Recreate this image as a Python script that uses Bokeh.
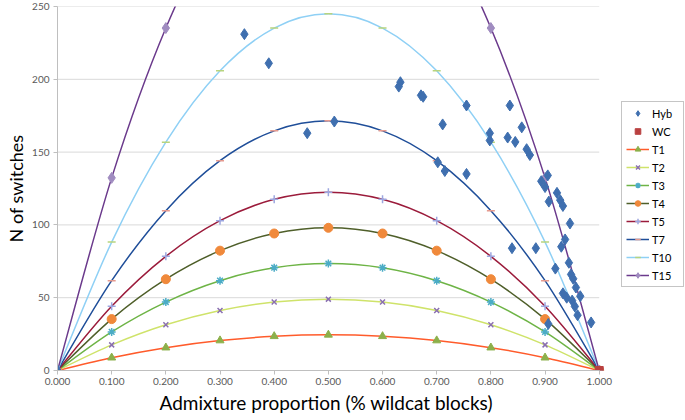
from bokeh.plotting import figure
from bokeh.models import Legend, LegendItem, NumeralTickFormatter, FixedTicker, Range1d, Title
from bokeh.embed import file_html
from bokeh.resources import INLINE

# ---- data ----
proportions = [0.0, 0.1, 0.2, 0.3, 0.4, 0.5, 0.6, 0.7, 0.8, 0.9, 1.0]
t1 = [0, 8.8, 15.7, 20.6, 23.5, 24.5, 23.5, 20.6, 15.7, 8.8, 0]
t2 = [0, 17.6, 31.4, 41.2, 47.0, 49.0, 47.0, 41.2, 31.4, 17.6, 0]
t3 = [0, 26.5, 47.0, 61.7, 70.6, 73.5, 70.6, 61.7, 47.0, 26.5, 0]
t4 = [0, 35.3, 62.7, 82.3, 94.1, 98.0, 94.1, 82.3, 62.7, 35.3, 0]
t5 = [0, 44.1, 78.4, 102.9, 117.6, 122.5, 117.6, 102.9, 78.4, 44.1, 0]
t7 = [0, 61.7, 109.8, 144.1, 164.6, 171.5, 164.6, 144.1, 109.8, 61.7, 0]
t10 = [0, 88.2, 156.8, 205.8, 235.2, 245.0, 235.2, 205.8, 156.8, 88.2, 0]
t15 = [0, 132.3, 235.2, 308.7, 352.8, 367.5, 352.8, 308.7, 235.2, 132.3, 0]

hyb_x = [0.0, 0.345, 0.39, 0.461, 0.511, 0.630, 0.633, 0.671, 0.675, 0.702, 0.711,
         0.715, 0.755, 0.755, 0.798, 0.798, 0.831, 0.835, 0.839, 0.845, 0.857, 0.866,
         0.872, 0.883, 0.893, 0.900, 0.905, 0.907, 0.906, 0.919, 0.922, 0.928, 0.930,
         0.933, 0.933, 0.937, 0.940, 0.944, 0.946, 0.948, 0.950, 0.952, 0.955, 0.957,
         0.960, 0.965, 0.985]
hyb_y = [0, 231, 211, 163, 171, 195, 198, 189, 188, 143, 169,
         137, 182, 135, 163, 158, 160, 182, 84, 157, 167, 152,
         148, 84, 130, 126, 134, 116, 32, 70, 122, 117, 85,
         113, 53, 90, 50, 74, 101, 66, 48, 63, 44, 57,
         38, 51, 33]
wc_x = [1.0]
wc_y = [0]

x_ticks = [0.0, 0.1, 0.2, 0.3, 0.4, 0.5, 0.6, 0.7, 0.8, 0.9, 1.0]
y_ticks = [0, 50, 100, 150, 200, 250]

FONT = "Lato"


def smooth_segments(xs, ys):
    """Bezier control points for a smoothed line through the given points."""
    n = len(xs)
    out = {k: [] for k in ("x0", "y0", "x1", "y1", "cx0", "cy0", "cx1", "cy1")}
    for i in range(n - 1):
        xp, yp = (xs[i - 1], ys[i - 1]) if i > 0 else (xs[i], ys[i])
        xn, yn = (xs[i + 2], ys[i + 2]) if i + 2 < n else (xs[i + 1], ys[i + 1])
        out["x0"].append(xs[i]); out["y0"].append(ys[i])
        out["x1"].append(xs[i + 1]); out["y1"].append(ys[i + 1])
        out["cx0"].append(xs[i] + (xs[i + 1] - xp) / 6.0)
        out["cy0"].append(ys[i] + (ys[i + 1] - yp) / 6.0)
        out["cx1"].append(xs[i + 1] - (xn - xs[i]) / 6.0)
        out["cy1"].append(ys[i + 1] - (yn - ys[i]) / 6.0)
    return out


# frame spans the full width; the data area (0..1) ends where the legend column starts
p = figure(width=684, height=414, output_backend="svg", toolbar_location=None,
           x_range=Range1d(0, 1.1574), y_range=Range1d(0, 250),
           min_border_left=51, min_border_right=0, min_border_top=6, min_border_bottom=30)
p.outline_line_color = None
p.xgrid.visible = False
p.ygrid.visible = False
p.segment(x0=[x_ticks[0]] * len(y_ticks), x1=[x_ticks[-1]] * len(y_ticks),
          y0=y_ticks, y1=y_ticks, line_color="#D9D9D9", line_width=1, level="underlay")

p.xaxis.ticker = FixedTicker(ticks=x_ticks)
p.yaxis.ticker = FixedTicker(ticks=y_ticks)
p.xaxis.bounds = (x_ticks[0], x_ticks[-1])
p.xaxis.formatter = NumeralTickFormatter(format="0.000")
for ax in (p.xaxis, p.yaxis):
    ax.axis_line_color = "#BFBFBF"
    ax.major_tick_line_color = "#BFBFBF"
    ax.major_tick_out = 4
    ax.major_tick_in = 0
    ax.minor_tick_line_color = None
    ax.major_label_text_font = FONT
    ax.major_label_text_font_size = "10px"
    ax.major_label_text_color = "#595959"
p.xaxis.major_label_standoff = 3
p.yaxis.major_label_standoff = 4

# axis titles as Titles so they can sit where the reference puts them
y_title = Title(text="N of switches", align="center", offset=10, standoff=5,
                text_font=FONT, text_font_size="18px", text_font_style="normal",
                text_color="#000000")
p.add_layout(y_title, "left")
x_title = Title(text="Admixture proportion (% wildcat blocks)", align="left", offset=102,
                standoff=2, text_font=FONT, text_font_size="19px",
                text_font_style="normal", text_color="#000000")
p.add_layout(x_title, "below")

items = []
series = [
    ("T1", t1, "#FF5B2B", "triangle", "#8CB04A", 8),
    ("T2", t2, "#CFE36A", "x", "#8A6FB0", 7),
    ("T3", t3, "#6EB446", "asterisk", "#4BACC6", 8),
    ("T4", t4, "#4F5F2A", "circle", "#F0893B", 9),
    ("T5", t5, "#9B1B3B", "cross", "#9DA7E0", 8),
    ("T7", t7, "#1F4E99", "dash", "#E59A8F", 8),
    ("T10", t10, "#8FD0F5", "dash", "#B7D47E", 8),
    ("T15", t15, "#6B3A8C", "diamond", "#A08CC0", 11),
]
for name, vals, lc, mk, mc, sz in series:
    seg = smooth_segments(proportions, vals)
    rl = p.bezier(x0=seg["x0"], y0=seg["y0"], x1=seg["x1"], y1=seg["y1"],
                  cx0=seg["cx0"], cy0=seg["cy0"], cx1=seg["cx1"], cy1=seg["cy1"],
                  line_color=lc, line_width=1.5)
    lw = 1 if mk in ("diamond", "circle", "triangle") else 1.5
    rm = p.scatter(proportions, vals, marker=mk, size=sz, fill_color=mc, line_color=mc,
                   line_width=lw)
    items.append(LegendItem(label=name, renderers=[rl, rm]))

r_h = p.scatter(hyb_x, hyb_y, marker="diamond", size=11,
                fill_color="#3F6FAF", line_color="#3F6FAF")
r_w = p.scatter(wc_x, wc_y, marker="square", size=8, fill_color="#B94040", line_color="#B94040")
items = [LegendItem(label="Hyb", renderers=[r_h]),
         LegendItem(label="WC", renderers=[r_w])] + items

legend = Legend(items=items, location=(564, 83))
legend.label_text_font = FONT
legend.label_text_font_size = "11px"
legend.label_text_color = "#000000"
legend.glyph_width = 23
legend.glyph_height = 14
legend.label_height = 14
legend.label_width = 27
legend.spacing = 4
legend.padding = 4
legend.margin = 0
legend.label_standoff = 3
legend.border_line_color = "#8C8C8C"
legend.border_line_width = 1
legend.background_fill_color = "white"
legend.background_fill_alpha = 1
p.add_layout(legend, "center")

open("out.html", "w").write(file_html(p, INLINE))
